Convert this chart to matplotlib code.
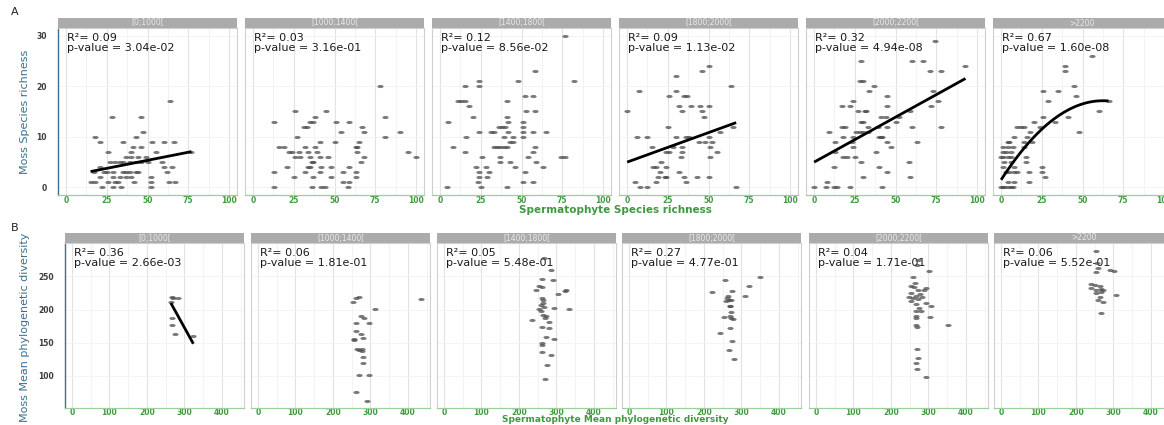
import numpy as np
import matplotlib
matplotlib.use("Agg")
import matplotlib.pyplot as plt
from matplotlib.patches import Rectangle
from matplotlib.path import Path
from matplotlib.ticker import MultipleLocator

# ---------------------------------------------------------------- data
bins = ["[0;1000[", "[1000;1400[", "[1400;1800[", "[1800;2000[", "[2000;2200[", ">2200"]

# Row A: spermatophyte species richness (x) vs moss species richness (y)
rich_0_1000 = [(64,17),(28,14),(46,14),(18,10),(43,10),(47,11),(21,9),(35,9),(53,9),(60,9),(66,9),
               (41,8),(46,8),(26,7),(40,7),(55,7),(77,7),(37,6),(40,6),(44,6),(49,6),(27,5),(30,5),
               (33,5),(35,5),(39,5),(43,5),(46,5),(50,5),(59,5),(21,4),(60,4),(65,4),(17,3),(23,3),
               (25,3),(29,3),(35,3),(37,3),(39,3),(43,3),(44,3),(62,3),(21,2),(29,2),(33,2),(37,2),
               (40,2),(52,2),(15,1),(18,1),(26,1),(30,1),(32,1),(42,1),(52,1),(63,1),(67,1),(22,0),
               (29,0),(34,0),(52,0)]
rich_1000_1400 = [(78,20),(81,14),(81,10),(90,11),(95,7),(100,6),(26,15),(45,15),(38,14),(13,13),
                  (35,13),(37,13),(51,13),(59,13),(31,12),(33,12),(67,12),(54,11),(68,11),(27,10),
                  (41,9),(50,9),(65,9),(16,8),(19,8),(32,8),(38,8),(63,8),(64,8),(22,7),(24,7),(28,7),
                  (34,7),(39,7),(64,7),(26,6),(29,6),(35,6),(41,6),(46,6),(68,6),(36,5),(37,5),(66,5),
                  (21,4),(34,4),(35,4),(42,4),(48,4),(59,4),(13,3),(32,3),(41,3),(55,3),(63,3),(25,2),
                  (37,2),(48,2),(63,2),(55,1),(59,1),(13,0),(36,0),(42,0),(44,0),(58,0)]
rich_1400_1800 = [(77,30),(58,23),(24,21),(48,21),(82,21),(24,20),(15,20),(52,18),(57,18),(11,17),
                  (13,17),(15,17),(41,17),(18,16),(53,15),(58,15),(20,14),(41,14),(5,13),(42,13),
                  (51,13),(36,12),(38,12),(40,12),(51,12),(24,11),(31,11),(33,11),(42,11),(51,11),
                  (57,11),(65,11),(16,10),(39,10),(45,10),(51,10),(43,9),(45,9),(8,8),(33,8),(35,8),
                  (37,8),(39,8),(41,8),(58,8),(15,7),(57,7),(26,6),(37,6),(54,6),(74,6),(77,6),(37,5),
                  (43,5),(59,5),(22,4),(28,4),(46,4),(63,4),(24,3),(30,3),(52,3),(24,2),(29,2),(23,1),
                  (51,1),(57,1),(4,0),(25,0),(41,0)]
rich_1800_2000 = [(50,24),(46,23),(30,22),(64,20),(7,19),(30,19),(26,18),(35,18),(37,18),(32,16),
                  (39,16),(50,16),(45,16),(0,15),(34,15),(46,15),(47,14),(25,12),(65,12),(57,11),
                  (6,10),(12,10),(30,10),(36,10),(38,10),(50,10),(44,9),(48,9),(52,9),(15,8),(28,8),
                  (34,8),(51,8),(24,7),(26,7),(34,7),(55,7),(33,6),(51,6),(21,5),(16,4),(18,4),(24,4),
                  (20,3),(32,3),(19,2),(23,2),(24,2),(35,2),(43,2),(50,2),(5,1),(18,1),(36,1),(8,0),
                  (12,0),(67,0)]
rich_2000_2200 = [(74,29),(29,25),(60,25),(67,25),(93,24),(71,23),(78,23),(28,21),(30,21),(37,20),
                  (34,19),(73,19),(24,17),(45,18),(76,17),(17,16),(22,16),(45,16),(72,16),(27,15),
                  (31,15),(32,15),(59,15),(41,14),(44,14),(52,14),(29,13),(30,13),(50,13),(17,12),
                  (19,12),(33,12),(45,12),(60,12),(78,12),(39,12),(9,11),(26,11),(28,11),(30,11),
                  (33,11),(18,10),(24,10),(40,10),(41,10),(42,10),(13,9),(23,9),(45,9),(63,9),(24,8),
                  (47,8),(13,7),(38,7),(18,6),(20,6),(25,6),(29,5),(58,5),(12,4),(40,4),(59,2),(45,3),
                  (30,2),(8,1),(0,0),(7,0),(12,0),(14,0),(22,0),(42,0)]
rich_2200_up = [(56,26),(39,24),(39,23),(45,20),(26,19),(35,19),(46,18),(29,17),(66,17),(60,15),
                (26,14),(41,14),(20,13),(33,13),(10,12),(12,12),(14,12),(24,12),(18,11),(48,11),
                (8,10),(16,10),(4,9),(5,9),(14,9),(19,9),(1,8),(4,8),(7,8),(14,8),(1,7),(3,7),(6,7),
                (0,6),(1,6),(4,6),(6,6),(15,6),(2,5),(6,5),(15,5),(1,4),(25,4),(8,4),(3,3),(5,3),
                (8,3),(10,3),(17,3),(25,3),(27,2),(4,1),(8,1),(17,1),(0,0),(1,0),(2,0),(4,0),(6,0),(7,0)]
richness = [rich_0_1000, rich_1000_1400, rich_1400_1800, rich_1800_2000, rich_2000_2200, rich_2200_up]

# Row B: spermatophyte mean phylogenetic diversity (x) vs moss MPD (y)
mpd_0_1000 = [(267,219),(271,217.5),(284,217.5),(264,211),(267,187.5),(268,177.5),(276,162.5),(324,160)]
mpd_1000_1400 = [(253,211.5),(262,217.5),(269,219),(313,201),(275,190),(284,187.5),(297,180),(262,180),
                 (275,163.5),(262,167.5),(279.5,157.5),(255.5,155),(257.5,154),(263.5,140),(269,139),
                 (278,137.5),(278,140),(279.5,129),(279.5,119),(269,101.5),(295.5,101.5),(262,75),
                 (291,62.5),(435,216.5)]
mpd_1400_1800 = [(268,277.5),(286,260),(263,246.5),(291.5,245),(253,236),(262,234),(245.5,229),(326,229),
                 (324,227.5),(303.5,224),(262,217.5),(263.5,214),(265,210),(259,207.5),(254,201),(268,204),
                 (294.6,202.5),(335,201),(259,197.5),(265,192.5),(272,190),(270.5,187.5),(279.5,181),
                 (235,185),(263,174),(281,172.5),(272,159),(294.6,155),(262,150),(263,146),(263,136.5),
                 (286,131.5),(274,116),(270.5,95)]
mpd_1800_2000 = [(350,248.5),(255.5,245),(321,235),(222,226.5),(276,228.5),(309,220),(265,221),(263,217.5),
                 (267.5,215),(258.5,212.5),(272,214),(270.5,206),(270.5,205),(272.5,196),(254,189),
                 (270.5,190),(272.5,187.5),(277,186),(271,172.5),(242,165),(276,152.5),(267,139),(280.7,125)]
mpd_2000_2200 = [(272,275),(270,267.5),(301,258.5),(259,248.5),(265,240),(252.5,236),(261.5,233.5),(272,230),
                 (288,230),(295,232.5),(254.5,225),(277,224),(266,221),(284,219),(248,219),(259,217.5),
                 (272,216),(254.5,212.5),(266,209),(295,210),(308,205),(275,202.5),(268,197.5),(281,197.5),
                 (266,190),(304,189),(268,187.5),(268,177.5),(270,174),(353,176.5),(270,140),(272,126.5),
                 (268,119),(270,111),(295,98.5)]
mpd_2200_up = [(255,289),(257,271),(260,263.5),(255,256.5),(290,260),(301,258.5),(241.5,239),(250,237.5),
               (264,235),(241.5,232.5),(266,231),(254,229),(272,229),(255,225),(268,226),(264,219),
               (306,222.5),(259,215),(272,211),(266,195)]
mpd = [mpd_0_1000, mpd_1000_1400, mpd_1400_1800, mpd_1800_2000, mpd_2000_2200, mpd_2200_up]

# Regression statistics per elevation bin
r2_rich = ["0.09", "0.03", "0.12", "0.09", "0.32", "0.67"]
p_rich = ["3.04e-02", "3.16e-01", "8.56e-02", "1.13e-02", "4.94e-08", "1.60e-08"]
r2_mpd = ["0.36", "0.06", "0.05", "0.27", "0.04", "0.06"]
p_mpd = ["2.66e-03", "1.81e-01", "5.48e-01", "4.77e-01", "1.71e-01", "5.52e-01"]

# Fitted polynomial coefficients (highest power first) for the drawn trends
fit_rich = {0: [0.0635, 2.18], 3: [0.1165, 5.0], 4: [0.1776, 5.0], 5: [-0.004, 0.5, 1.5]}
fit_mpd = {0: [-1.025, 480.6]}

# ---------------------------------------------------------------- layout
W, H = 1164, 425
fig = plt.figure(figsize=(W / 100, H / 100), dpi=100)

STRIP_BG = "#ababab"
STRIP_FG = "#e9e9e9"
GREEN = "#3f9a3f"
BLUE = "#3a6f91"
PT_COLOR = "#4d4d4d"

theta = np.linspace(0, 2 * np.pi, 41)
ellipse = Path(np.column_stack([np.cos(theta), 0.5 * np.sin(theta)]), closed=True)


def add_panel(left, top, width, bottom):
    return fig.add_axes([left / W, 1 - bottom / H, width / W, (bottom - top) / H])


def draw_row(lefts, top, bottom, data, fits, r2s, ps, xlim, ylim, xstep, yticks, xpad):
    h = bottom - top
    for i, left in enumerate(lefts):
        ax = add_panel(left, top, 179, bottom)
        pts = np.array(data[i], dtype=float)
        ax.scatter(pts[:, 0], pts[:, 1], s=20, marker=ellipse, color=PT_COLOR,
                   alpha=0.75, linewidths=0, zorder=3)
        if i in fits:
            xs = np.linspace(pts[:, 0].min(), pts[:, 0].max(), 100)
            ax.plot(xs, np.polyval(fits[i], xs), color="black", lw=2.0,
                    solid_capstyle="butt", zorder=4)
        ax.set_xlim(*xlim)
        ax.set_ylim(*ylim)
        ax.xaxis.set_major_locator(MultipleLocator(xstep))
        ax.xaxis.set_minor_locator(MultipleLocator(xstep / 2))
        ax.set_yticks(yticks)
        ax.grid(axis="x", which="major", color="#e2e2e2", lw=0.8, zorder=0)
        ax.grid(axis="x", which="minor", color="#f1f1f1", lw=0.6, zorder=0)
        ax.grid(axis="y", which="major", color="#f3f3f3", lw=0.6, zorder=0)
        ax.set_axisbelow(True)
        ax.tick_params(axis="x", which="both", length=0, pad=xpad, labelsize=5.5,
                       labelcolor=GREEN)
        ax.tick_params(axis="y", length=0, pad=8, labelsize=5.5, labelcolor="#3c3c3c")
        for lab in ax.get_xticklabels() + ax.get_yticklabels():
            lab.set_fontweight("bold")
        if i > 0:
            ax.tick_params(axis="y", labelleft=False)
        for side in ("top", "right", "left"):
            ax.spines[side].set_color("#cfcfcf")
            ax.spines[side].set_linewidth(0.8)
        ax.spines["bottom"].set_color("#9bcf9b")
        ax.spines["bottom"].set_linewidth(0.9)
        if i == 0:
            ax.spines["left"].set_color(BLUE)
            ax.spines["left"].set_linewidth(1.0)
        # strip with the elevation bin
        sh = 10 / h
        ax.add_patch(Rectangle((0, 1), 1, sh, transform=ax.transAxes, clip_on=False,
                               facecolor=STRIP_BG, edgecolor="none"))
        ax.text(0.5, 1 + sh / 2, bins[i], transform=ax.transAxes, ha="center",
                va="center", fontsize=5.5, color=STRIP_FG)
        # statistics
        ax.text(9 / 179, 1 - 10 / h, f"R\u00b2= {r2s[i]}", transform=ax.transAxes,
                ha="left", va="center", fontsize=8, color="#1a1a1a", zorder=1)
        ax.text(9 / 179, 1 - 20 / h, f"p-value = {ps[i]}", transform=ax.transAxes,
                ha="left", va="center", fontsize=8, color="#1a1a1a", zorder=1)


draw_row([58, 245, 432, 619, 806, 993], 28, 195, richness, fit_rich, r2_rich, p_rich,
         (-5, 105), (-1.5, 31.5), 25, [0, 10, 20, 30], 1)
draw_row([65, 251, 437, 622, 809, 994], 243, 408, mpd, fit_mpd, r2_mpd, p_mpd,
         (-18, 459), (51.6, 300.5), 100, [100, 150, 200, 250], 0.3)

narrow = ["Liberation Sans Narrow", "DejaVu Sans"]
fig.text(25 / W, 1 - 112 / H, "Moss Species richness", rotation=90, ha="center",
         va="center", color=BLUE, fontsize=8, family=narrow)
fig.text(25 / W, 1 - 327 / H, "Moss Mean phylogenetic diversity", rotation=90,
         ha="center", va="center", color=BLUE, fontsize=8, family=narrow)
fig.text(615 / W, 1 - 210 / H, "Spermatophyte Species richness", ha="center",
         va="center", color=GREEN, fontsize=7.5, fontweight="bold")
fig.text(615 / W, 0.5 / H, "Spermatophyte Mean phylogenetic diversity", ha="center",
         va="bottom", color=GREEN, fontsize=6.5, fontweight="bold")
fig.text(15 / W, 1 - 12 / H, "A", ha="center", va="center", fontsize=8, color="#222222")
fig.text(15 / W, 1 - 228 / H, "B", ha="center", va="center", fontsize=8, color="#222222")

fig.savefig("out.png", dpi=100, facecolor="white")
